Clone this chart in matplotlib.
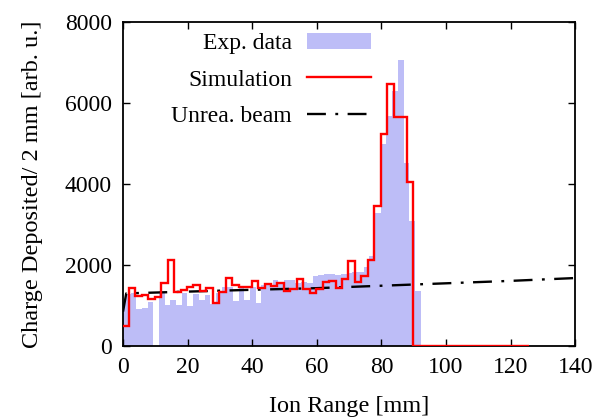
import numpy as np
import matplotlib
matplotlib.use("Agg")
import matplotlib.pyplot as plt
from matplotlib.patches import Patch
from matplotlib.lines import Line2D

plt.rcParams['font.family'] = ['Liberation Serif', 'DejaVu Serif']

# Exp. data: histogram bins (left edge of first bin, bin width) and heights
exp_start = -1.17
exp_width = 1.76
exp_vals = [1100, 1280, 1300, 910, 930, 1090, 0,
            1350, 1020, 1130, 1010, 1300, 1000, 1290, 1130, 1250, 1050,
            1300, 1450, 1465, 1120, 1450, 1150, 1450, 1070, 1500, 1510,
            1630, 1590, 1630, 1630, 1550, 1570, 1550, 1730, 1750, 1780,
            1770, 1760, 1780, 1800, 1820, 1820, 1950, 2220, 3290, 5000,
            5680, 6300, 7060, 4510, 3090, 1365]

# Simulation: step histogram, 2 mm bins
sim_start = -0.2
sim_width = 2.0
sim_vals = [500, 1440, 1240, 1250, 1160, 1220, 1560, 2120, 1340, 1380,
            1460, 1500, 1365, 1440, 1070, 1340, 1690, 1500, 1470, 1470,
            1600, 1440, 1530, 1480, 1550, 1360, 1410, 1650, 1400, 1316,
            1400, 1590, 1610, 1425, 1650, 2110, 1590, 1720, 2120, 3465,
            5225, 6460, 5665, 5665, 4040] + [0] * 18

# Unreacted beam curve
beam_x = [0, 1, 5, 20, 40, 60, 80, 100, 120, 140]
beam_y = [850, 1300, 1310, 1345, 1390, 1430, 1490, 1550, 1610, 1680]

dash = (8, 4, 1.2, 4)

fig = plt.figure(figsize=(6.03, 4.19), dpi=100)
ax = fig.add_axes([0.204, 0.174, 0.750, 0.7735])

exp_edges = exp_start + exp_width * np.arange(len(exp_vals) + 1)
ax.bar(exp_edges[:-1], exp_vals, width=exp_width, align='edge',
       color='#bdbdf7', linewidth=0, zorder=1)

ax.plot(beam_x, beam_y, color='black', lw=1.7, dashes=dash, zorder=2)

sim_edges = sim_start + sim_width * np.arange(len(sim_vals) + 1)
ax.stairs(sim_vals, sim_edges, color='red', lw=1.7, baseline=None, zorder=3)

ax.set_xlim(0, 140)
ax.set_ylim(0, 8000)
ax.set_xticks(np.arange(0, 141, 20))
ax.set_yticks(np.arange(0, 8001, 2000))
ax.tick_params(direction='in', length=5, width=1, top=True, right=True,
               labelsize=17, pad=8)
for s in ax.spines.values():
    s.set_linewidth(1.3)

ax.set_xlabel('Ion Range [mm]', fontsize=17.5, labelpad=13)
ax.set_ylabel('Charge Deposited/ 2 mm [arb. u.]', fontsize=17.5, labelpad=16)

handles = [Patch(facecolor='#bdbdf7', edgecolor='none'),
           Line2D([], [], color='red', lw=1.7),
           Line2D([], [], color='black', lw=1.7, dashes=dash)]
labels = ['Exp. data', 'Simulation', 'Unrea. beam']
ax.legend(handles, labels, loc='upper right', bbox_to_anchor=(0.58, 1.01),
          frameon=False, markerfirst=False, fontsize=17, handlelength=2.7,
          handleheight=0.7, labelspacing=0.62, handletextpad=0.65,
          borderaxespad=0.2)

fig.savefig('out.png', dpi=100)
